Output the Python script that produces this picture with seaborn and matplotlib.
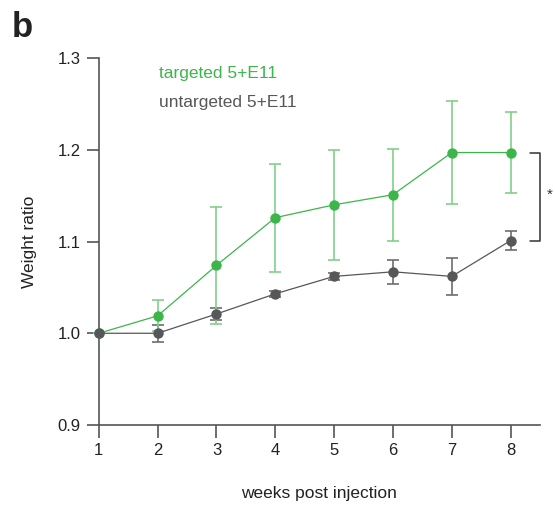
import numpy as np
import pandas as pd
import matplotlib
matplotlib.use('Agg')
import matplotlib.pyplot as plt
import seaborn as sns

# data
weeks = [1, 2, 3, 4, 5, 6, 7, 8]
targeted = [1.000, 1.019, 1.074, 1.126, 1.140, 1.151, 1.197, 1.197]
targeted_err = [0.0, 0.017, 0.064, 0.059, 0.060, 0.050, 0.056, 0.044]
untargeted = [1.000, 1.000, 1.021, 1.043, 1.062, 1.067, 1.062, 1.101]
untargeted_err = [0.0, 0.009, 0.006, 0.003, 0.004, 0.013, 0.020, 0.010]
yticks = [0.9, 1.0, 1.1, 1.2, 1.3]

green = '#3cb64a'
green_light = '#80d089'
grey = '#555759'
grey_light = '#6d6d6d'

sns.set_style('ticks')
plt.rcParams['font.family'] = ['Liberation Sans', 'DejaVu Sans']

df = pd.DataFrame({'week': weeks * 2,
                   'ratio': targeted + untargeted,
                   'group': ['targeted 5+E11'] * 8 + ['untargeted 5+E11'] * 8})

fig = plt.figure(figsize=(5.55, 5.09), dpi=100)
ax = fig.add_axes([0.178, 0.165, 0.795, 0.721])

ax.errorbar(weeks, untargeted, yerr=untargeted_err, fmt='none', ecolor=grey_light,
            elinewidth=1.2, capsize=4, capthick=1.2, clip_on=False, zorder=2)
ax.errorbar(weeks, targeted, yerr=targeted_err, fmt='none', ecolor=green_light,
            elinewidth=1.2, capsize=4, capthick=1.2, clip_on=False, zorder=2)

sns.lineplot(data=df, x='week', y='ratio', hue='group',
             palette={'targeted 5+E11': green, 'untargeted 5+E11': grey},
             marker='o', markersize=7.5, markeredgewidth=0, linewidth=0.9,
             legend=False, ax=ax, zorder=3, clip_on=False)

ax.set_xlim(1, 8.5)
ax.set_ylim(0.9, 1.3)
ax.set_xticks(weeks)
ax.set_yticks(yticks)
ax.set_yticklabels([f'{v:.1f}' for v in yticks])
ax.tick_params(axis='both', labelsize=12, length=9, width=1.2, color='#555555',
               labelcolor='#222222', pad=4)
for s in ['top', 'right']:
    ax.spines[s].set_visible(False)
for s in ['left', 'bottom']:
    ax.spines[s].set_color('#555555')
    ax.spines[s].set_linewidth(1.2)

ax.set_xlabel('weeks post injection', fontsize=12.5, color='#222222', labelpad=20)
ax.set_ylabel('Weight ratio', fontsize=12.5, color='#222222', labelpad=15)

# legend as coloured text
ax.text(2.03, 1.283, 'targeted 5+E11', color=green, fontsize=12.5, va='center')
ax.text(2.03, 1.251, 'untargeted 5+E11', color=grey, fontsize=12.5, va='center')

# significance bracket
bx0, bx1 = 8.33, 8.5
ax.plot([bx0, bx1, bx1, bx0], [targeted[-1], targeted[-1], untargeted[-1], untargeted[-1]],
        color='#333333', lw=1.1, clip_on=False)
ax.text(8.66, (targeted[-1] + untargeted[-1]) / 2 + 0.002, '*', fontsize=11, ha='center',
        va='center', color='#333333')

fig.text(0.022, 0.928, 'b', fontsize=25, fontweight='bold', color='#222222')

fig.savefig('out.png', dpi=100)
